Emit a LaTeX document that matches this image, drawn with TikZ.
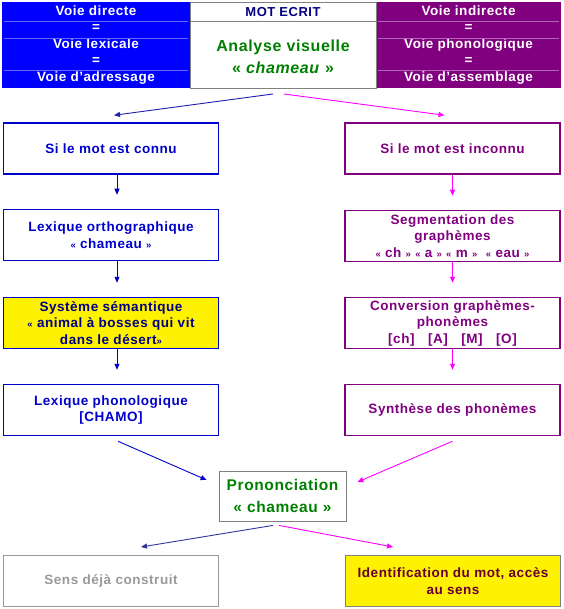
\documentclass[tikz,border=0pt]{standalone}
\usepackage{fontspec}
\setmainfont{Liberation Sans}[LetterSpace=4]
\usetikzlibrary{arrows.meta}
\definecolor{voieblue}{RGB}{0,0,255}
\definecolor{voiepurple}{RGB}{128,0,128}
\definecolor{lexblue}{RGB}{0,0,204}
\definecolor{navytext}{RGB}{0,0,128}
\definecolor{flashpink}{RGB}{255,0,255}
\definecolor{sensgray}{RGB}{153,153,153}
\definecolor{framegray}{RGB}{128,128,128}
\definecolor{accesred}{RGB}{102,0,51}
\definecolor{motgreen}{RGB}{0,128,0}
\definecolor{darkarrow}{RGB}{51,51,153}
% small guillemets
\newcommand{\gop}{{\fontsize{9.5}{9.5}\selectfont«}}
\newcommand{\gcl}{{\fontsize{9.5}{9.5}\selectfont»}}
\tikzset{
	box/.style={draw, line width=1.5pt, inner sep=0pt, minimum width=215pt, minimum height=51pt,
		align=center, font=\fontsize{13.5}{16.5}\selectfont\bfseries},
	lexbox/.style={box, draw=lexblue, text=lexblue},
	phonbox/.style={box, draw=voiepurple, text=voiepurple},
	cell/.style={inner sep=0pt, minimum height=86pt, align=center, text=white,
		font=\fontsize{13.5}{16.5}\selectfont\bfseries},
	big/.style={align=center, text=motgreen, font=\fontsize{15.5}{22}\selectfont\bfseries},
	lexarrow/.style={lexblue, line width=0.9pt, -{Triangle[length=6pt,width=5pt]}},
	phonarrow/.style={flashpink, line width=0.9pt, -{Triangle[length=6pt,width=5pt]}},
}

\begin{document}
\begin{tikzpicture}[x=1pt,y=-1pt]
	\fill[white] (0,0) rectangle (563,609);
	\useasboundingbox (0,0) rectangle (563,609);
	% table
	\node[cell, fill=voieblue, minimum width=188pt] (direct) at (96,45)
		{Voie directe\\=\\Voie lexicale\\=\\Voie d'adressage};
	\node[cell, fill=voiepurple, minimum width=185pt] (indirect) at (468.5,45)
		{Voie indirecte\\=\\Voie phonologique\\=\\Voie d'assemblage};
	\foreach \y in {21,38,70} {
		\draw[voieblue!60!white, line width=0.6pt] (4,\y) -- (188,\y);
		\draw[voiepurple!60!white, line width=0.6pt] (378,\y) -- (559,\y);
	}
	\node[draw=framegray, line width=0.8pt, minimum width=186pt, minimum height=86pt, inner sep=0pt] (mot) at (283,45) {};
	\draw[framegray, line width=0.8pt] (190,21) -- (376,21);
	\node[text=navytext, font=\fontsize{13}{15}\selectfont\bfseries] (ecrit) at (283,12) {MOT ECRIT};
	\node[big, font=\fontsize{16}{22}\selectfont\bfseries] (analyse) at (283,57) {Analyse visuelle\\« \textit{chameau} »};
	% left column
	\node[lexbox] (connu) at (111,148.5) {Si le mot est connu};
	\node[lexbox] (ortho) at (111,235) {Lexique orthographique\\\gop{} chameau \gcl};
	\node[lexbox, fill=yellow, text=navytext] (seman) at (111,323)
		{Système sémantique\\\gop{} animal à bosses qui vit\\dans le désert\gcl};
	\node[lexbox] (phono) at (111,410) {Lexique phonologique\\{[CHAMO]}};
	% right column
	\node[phonbox] (inconnu) at (452.5,148.5) {Si le mot est inconnu};
	\node[phonbox] (segm) at (452.5,236)
		{Segmentation des\\graphèmes\\\gop{} ch \gcl{} \gop{} a \gcl{} \gop{} m \gcl\ \ \gop{} eau \gcl};
	\node[phonbox] (conv) at (452.5,323)
		{Conversion graphèmes-\\phonèmes\\{[ch]}\quad[A]\quad[M]\quad[O]};
	\node[phonbox] (synth) at (452.5,410) {Synthèse des phonèmes};
	% bottom
	\node[draw=framegray, line width=0.8pt, minimum width=127pt, minimum height=50pt, inner sep=0pt, big] (pron) at (282.5,496)
		{Prononciation\\« chameau »};
	\node[box, line width=1pt, draw=sensgray, text=sensgray] (sens) at (111,581) {Sens déjà construit};
	\node[box, line width=1pt, draw=framegray, fill=yellow, text=accesred] (acces) at (453,581)
		{Identification du mot, accès\\au sens};
	% arrows
	\coordinate (motL) at (273,94);
	\coordinate (motR) at (284,94);
	\draw[lexarrow, darkarrow!60!lexblue] (motL) -- ([xshift=3pt,yshift=7pt]connu.north);
	\draw[phonarrow] (motR) -- ([xshift=-8pt,yshift=7pt]inconnu.north);
	\draw[lexarrow, shorten >=14pt] ([xshift=6pt]connu.south) -- ([xshift=6pt]ortho.north);
	\draw[lexarrow, shorten >=14pt] ([xshift=6pt]ortho.south) -- ([xshift=6pt]seman.north);
	\draw[lexarrow, shorten >=14pt] ([xshift=6pt]seman.south) -- ([xshift=6pt]phono.north);
	\draw[phonarrow, shorten >=14pt] (inconnu.south) -- (segm.north);
	\draw[phonarrow, shorten >=14pt] (segm.south) -- (conv.north);
	\draw[phonarrow, shorten >=14pt] (conv.south) -- (synth.north);
	\draw[lexarrow] ([xshift=7pt,yshift=-5pt]phono.south) -- ([xshift=-12pt,yshift=16pt]pron.west);
	\draw[phonarrow] ([yshift=-5pt]synth.south) -- ([xshift=11pt,yshift=14pt]pron.east);
	\draw[lexarrow, darkarrow] ([xshift=-9.5pt,yshift=-4pt]pron.south) -- ([xshift=30pt,yshift=8pt]sens.north);
	\draw[phonarrow] ([xshift=-3.5pt,yshift=-4pt]pron.south) -- ([xshift=-60pt,yshift=8pt]acces.north);
\end{tikzpicture}
\end{document}
